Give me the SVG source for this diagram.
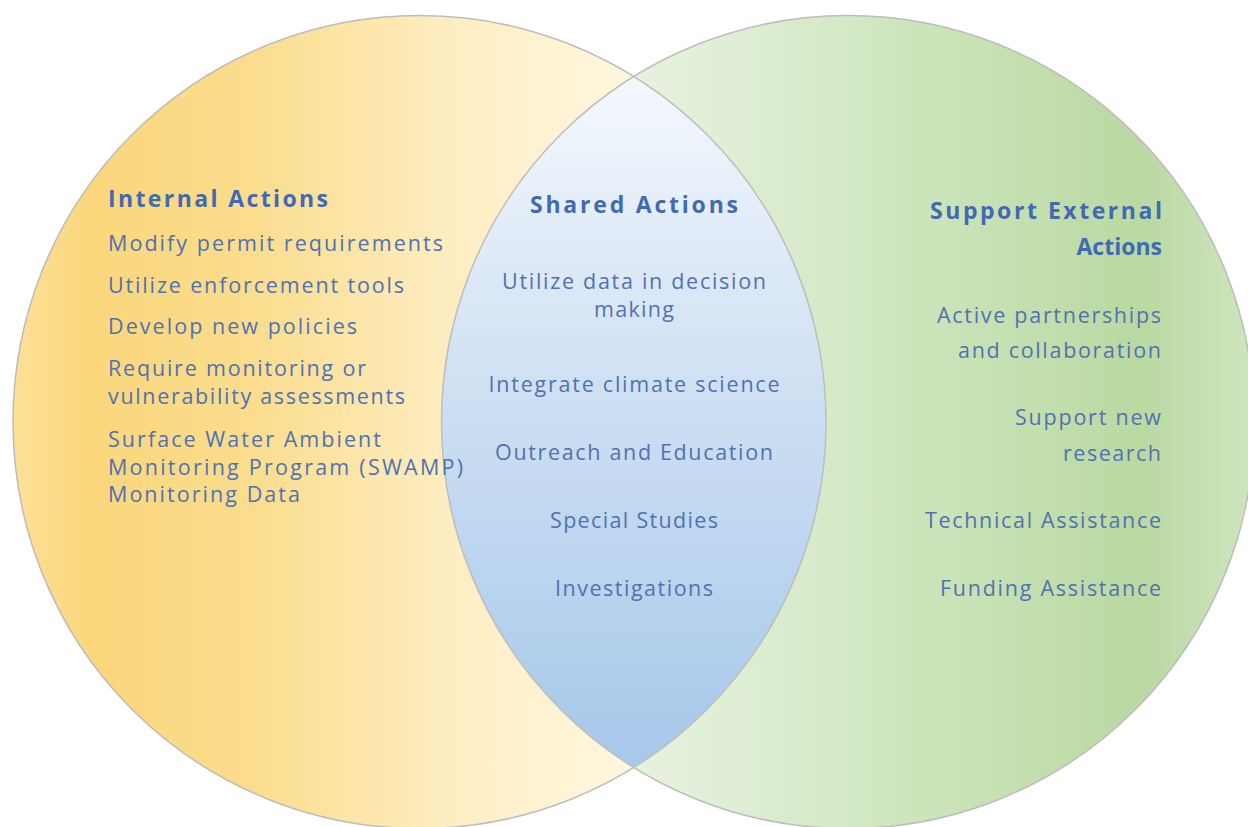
<svg xmlns="http://www.w3.org/2000/svg" width="1248" height="827" viewBox="0 0 1248 827">
<defs>
<linearGradient id="gLeft" gradientUnits="userSpaceOnUse" x1="13" y1="0" x2="826" y2="0">
<stop offset="0" stop-color="#FCE096"/>
<stop offset="0.1" stop-color="#FAD77C"/>
<stop offset="0.3" stop-color="#FBDD8E"/>
<stop offset="0.55" stop-color="#FEEEC4"/>
<stop offset="0.75" stop-color="#FFF6DE"/>
<stop offset="1" stop-color="#FFFAEC"/>
</linearGradient>
<linearGradient id="gRight" gradientUnits="userSpaceOnUse" x1="442" y1="0" x2="1254" y2="0">
<stop offset="0" stop-color="#F3F8EE"/>
<stop offset="0.3" stop-color="#E3F0DA"/>
<stop offset="0.6" stop-color="#CCE4BA"/>
<stop offset="0.86" stop-color="#B9D9A1"/>
<stop offset="1" stop-color="#CFE5BF"/>
</linearGradient>
<linearGradient id="gLens" gradientUnits="userSpaceOnUse" x1="0" y1="76" x2="0" y2="768">
<stop offset="0" stop-color="#F4F8FD"/>
<stop offset="0.45" stop-color="#CFE0F3"/>
<stop offset="1" stop-color="#A6C8EA"/>
</linearGradient>
</defs>
<style>
.edge{fill:none;stroke:#BDBDBD;stroke-width:1.5}
.h{font-family:"Open Sans",Lato,"Liberation Sans",sans-serif;font-weight:bold;font-size:23px;fill:#4169B4}
.t{font-family:"Open Sans",Lato,"Liberation Sans",sans-serif;font-size:21.5px;fill:#5072B2}
.c{text-anchor:middle}
.r{text-anchor:end}
</style>
<rect width="1248" height="827" fill="#FFFFFF"/>
<g id="internal-circle">
<circle cx="419.5" cy="422" r="406.5" fill="url(#gLeft)"/>
</g>
<g id="external-circle">
<circle cx="848" cy="422" r="406.5" fill="url(#gRight)"/>
</g>
<g id="shared-lens">
<path d="M633.75 76.55 A406.5 406.5 0 0 0 633.75 767.45 A406.5 406.5 0 0 0 633.75 76.55 Z" fill="url(#gLens)"/>
</g>
<g id="outlines">
<circle class="edge" cx="419.5" cy="422" r="406.5"/>
<circle class="edge" cx="848" cy="422" r="406.5"/>
</g>
<g id="connectors"/>
<g id="internal-text">
<text class="h" x="108" y="207" textLength="220" lengthAdjust="spacing">Internal Actions</text>
<text class="t" x="108" y="251" textLength="335" lengthAdjust="spacing">Modify permit requirements</text>
<text class="t" x="108" y="293" textLength="296" lengthAdjust="spacing">Utilize enforcement tools</text>
<text class="t" x="108" y="334" textLength="249" lengthAdjust="spacing">Develop new policies</text>
<text class="t" x="108" y="376" textLength="258" lengthAdjust="spacing">Require monitoring or</text>
<text class="t" x="108" y="404" textLength="297" lengthAdjust="spacing">vulnerability assessments</text>
<text class="t" x="108" y="447" textLength="273" lengthAdjust="spacing">Surface Water Ambient</text>
<text class="t" x="108" y="475" textLength="355" lengthAdjust="spacing">Monitoring Program (SWAMP)</text>
<text class="t" x="108" y="502" textLength="192" lengthAdjust="spacing">Monitoring Data</text>
</g>
<g id="shared-text">
<text class="h c" x="634" y="213" textLength="208" lengthAdjust="spacing">Shared Actions</text>
<text class="t c" x="634" y="289" textLength="264" lengthAdjust="spacing">Utilize data in decision</text>
<text class="t c" x="634" y="317" textLength="80" lengthAdjust="spacing">making</text>
<text class="t c" x="634" y="392" textLength="291" lengthAdjust="spacing">Integrate climate science</text>
<text class="t c" x="634" y="460" textLength="278" lengthAdjust="spacing">Outreach and Education</text>
<text class="t c" x="634" y="528" textLength="168" lengthAdjust="spacing">Special Studies</text>
<text class="t c" x="634" y="596" textLength="158" lengthAdjust="spacing">Investigations</text>
</g>
<g id="external-text">
<text class="h r" x="1162" y="219" textLength="232" lengthAdjust="spacing">Support External</text>
<text class="h r" x="1162" y="255">Actions</text>
<text class="t r" x="1161" y="323" textLength="224" lengthAdjust="spacing">Active partnerships</text>
<text class="t r" x="1161" y="358" textLength="203" lengthAdjust="spacing">and collaboration</text>
<text class="t r" x="1161" y="425" textLength="146" lengthAdjust="spacing">Support new</text>
<text class="t r" x="1161" y="461" textLength="98" lengthAdjust="spacing">research</text>
<text class="t r" x="1161" y="528" textLength="236" lengthAdjust="spacing">Technical Assistance</text>
<text class="t r" x="1161" y="596" textLength="221" lengthAdjust="spacing">Funding Assistance</text>
</g>
</svg>
